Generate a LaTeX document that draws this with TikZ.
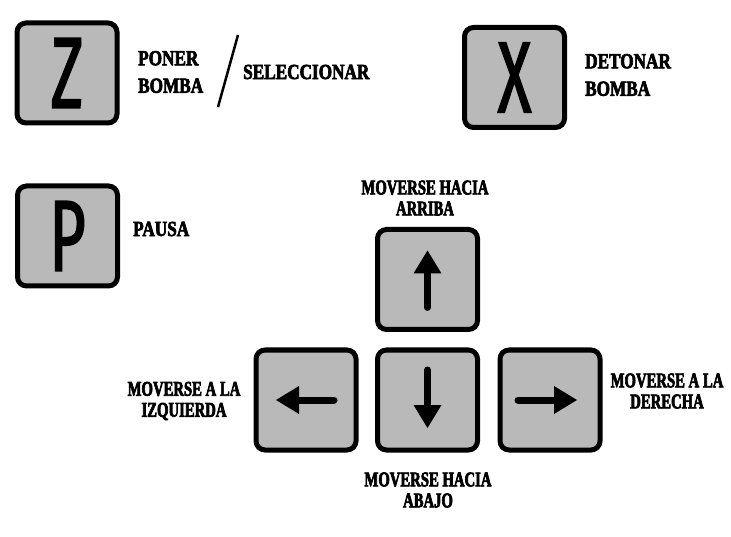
\documentclass[tikz,border=0pt]{standalone}
\usepackage{fontspec}
\newfontfamily\lblfont[FakeStretch=0.7,FakeBold=3]{Liberation Serif}
\newfontfamily\lbltopfont[FakeStretch=0.8,FakeBold=3]{Liberation Serif}
\newfontfamily\keyfont[FakeStretch=0.62,FakeBold=1.5]{Fira Sans}
\begin{document}
\begin{tikzpicture}[x=1pt,y=-1pt,
  keybox/.style={draw=black,line width=5pt,fill=keygray,rounded corners=9pt,
    minimum width=100pt,minimum height=100pt,inner sep=0pt,
    font={\keyfont\fontsize{101}{101}\selectfont}},
  lbl/.style={inner sep=0pt,align=center,font={\lblfont\bfseries\fontsize{21}{21}\selectfont}},
  lbltop/.style={inner sep=0pt,align=left,font={\lbltopfont\bfseries\fontsize{21.5}{27.5}\selectfont}},
  arrowshaft/.style={line width=7pt,line cap=round},
]
\definecolor{keygray}{HTML}{B9B9B9}
\useasboundingbox (0,0) rectangle (731,537);
\fill[white] (0,0) rectangle (731,537);
% keys
\node[keybox] (z) at (67,73) {Z};
\node[keybox] (x) at (514.5,77.5) {X};
\node[keybox] (p) at (67.5,236) {P};
\node[keybox] (up) at (427.5,279.5) {};
\node[keybox] (left) at (306,400) {};
\node[keybox] (down) at (427.5,400) {};
\node[keybox] (right) at (550,400) {};
% arrows inside keys
\draw[arrowshaft] ([yshift=-28]up.center) -- ([yshift=6]up.center);
\fill ([yshift=29]up.center) -- ([xshift=-14,yshift=6]up.center) -- ([xshift=14,yshift=6]up.center) -- cycle;
\draw[arrowshaft] ([yshift=30]down.center) -- ([yshift=-6]down.center);
\fill ([yshift=-28]down.center) -- ([xshift=-14,yshift=-5]down.center) -- ([xshift=14,yshift=-5]down.center) -- cycle;
\draw[arrowshaft] ([xshift=28]left.center) -- ([xshift=-8]left.center);
\fill ([xshift=-30]left.center) -- ([xshift=-7,yshift=-14]left.center) -- ([xshift=-7,yshift=14]left.center) -- cycle;
\draw[arrowshaft] ([xshift=-32]right.center) -- ([xshift=4]right.center);
\fill ([xshift=27]right.center) -- ([xshift=4,yshift=-14]right.center) -- ([xshift=4,yshift=14]right.center) -- cycle;
% labels
\node[lbltop,anchor=west] (lz) at (138,72) {PONER\\BOMBA};
\coordinate (s1) at (238,35);
\coordinate (s2) at (218,107);
\draw[line width=2.5pt] (s1) -- (s2);
\node[lbltop,anchor=west] (lsel) at (243,72) {SELECCIONAR};
\node[lbltop,anchor=west] (lx) at (585,75) {DETONAR\\BOMBA};
\node[lbltop,anchor=west] (lp) at (133,229) {PAUSA};
\node[lbl] (lup) at (425,198) {MOVERSE HACIA\\ARRIBA};
\node[lbl] (ldown) at (428,490) {MOVERSE HACIA\\ABAJO};
\node[lbl] (lleft) at (184,401) {MOVERSE A LA\\IZQUIERDA};
\node[lbl] (lright) at (667,391) {MOVERSE A LA\\DERECHA};
\end{tikzpicture}
\end{document}
